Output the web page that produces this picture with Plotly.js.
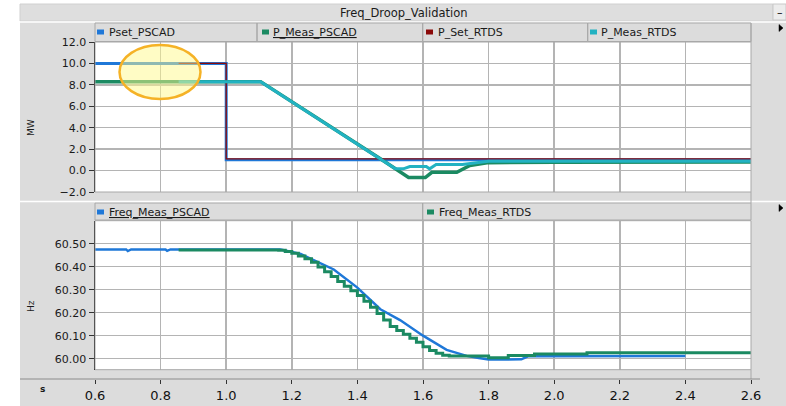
<!DOCTYPE html>
<html>
<head>
<meta charset="utf-8">
<script src="https://cdn.plot.ly/plotly-3.0.1.min.js"></script>
<style>html,body{margin:0;padding:0;background:#fff;}#chart{width:786px;height:406px;}</style>
</head>
<body>
<div id="chart"></div>
<script>
// ---- Data ----
// Top panel (MW)
const tPsetPSCAD = [0.6, 1.0, 1.0, 2.6];
const vPsetPSCAD = [10.0, 10.0, 1.0, 1.0];

const tPMeasPSCAD = [0.6, 1.105, 1.47, 1.556, 1.607, 1.627, 1.703, 1.743, 1.80, 2.0, 2.6];
const vPMeasPSCAD = [8.3, 8.3, 1.1, -0.65, -0.65, -0.16, -0.16, 0.47, 0.74, 0.78, 0.8];

const tPSetRTDS = [0.855, 1.0, 1.0, 2.6];
const vPSetRTDS = [10.0, 10.0, 1.1, 1.1];

const tPMeasRTDS = [0.855, 1.105, 1.515, 1.54, 1.56, 1.61, 1.62, 1.64, 1.72, 1.80, 2.6];
const vPMeasRTDS = [8.3, 8.3, 0.2, 0.16, 0.37, 0.37, 0.16, 0.56, 0.56, 0.88, 0.86];

// Bottom panel (Hz)
const tFreqPSCAD = [0.6, 0.695, 0.70, 0.71, 0.815, 0.82, 0.83, 1.166, 1.227, 1.328, 1.399, 1.47, 1.53, 1.60, 1.672, 1.733, 1.77, 1.80, 1.90, 1.92, 2.4];
const vFreqPSCAD = [60.475, 60.475, 60.468, 60.475, 60.475, 60.469, 60.475, 60.475, 60.455, 60.388, 60.31, 60.215, 60.168, 60.10, 60.038, 60.012, 60.003, 59.996, 59.997, 60.01, 60.012];

const tFreqRTDS = [0.855, 1.16, 1.18, 1.20, 1.22, 1.24, 1.26, 1.28, 1.30, 1.32, 1.34, 1.36, 1.38, 1.40, 1.42, 1.44, 1.46, 1.48, 1.50, 1.52, 1.54, 1.56, 1.58, 1.60, 1.62, 1.64, 1.66, 1.68, 1.78, 1.80, 1.86, 1.94, 2.10, 2.6];
const vFreqRTDS = [60.473, 60.472, 60.466, 60.458, 60.447, 60.434, 60.419, 60.399, 60.378, 60.357, 60.336, 60.315, 60.295, 60.275, 60.250, 60.224, 60.196, 60.168, 60.140, 60.122, 60.106, 60.089, 60.071, 60.052, 60.036, 60.024, 60.015, 60.012, 60.012, 60.004, 60.014, 60.020, 60.026, 60.026];

const xTicks = [0.6, 0.8, 1.0, 1.2, 1.4, 1.6, 1.8, 2.0, 2.2, 2.4, 2.6];
const yTopTicks = [-2, 0, 2, 4, 6, 8, 10, 12];
const yBotTicks = [60.0, 60.1, 60.2, 60.3, 60.4, 60.5];

const C_BLUE = '#1f78d8', C_GREEN = '#1b8a62', C_RED = '#8b0a0a', C_TEAL = '#22b2c2';
const GRAY = '#dcdcdc', BORDER = '#a8a8a8', GRID = '#b4b4b4';
const FONT = 'DejaVu Sans';

// ---- pixel -> paper helpers (layout only) ----
const L = 95, R = 751, T = 42, B = 379;
const px = x => (x - L) / (R - L);
const py = y => (B - y) / (B - T);

const traces = [
  {x: tPsetPSCAD, y: vPsetPSCAD, xaxis: 'x', yaxis: 'y2', mode: 'lines', name: 'Pset_PSCAD', line: {color: C_BLUE, width: 3}},
  {x: tPMeasPSCAD, y: vPMeasPSCAD, xaxis: 'x', yaxis: 'y2', mode: 'lines', name: 'P_Meas_PSCAD', line: {color: C_GREEN, width: 3.5}},
  {x: tPSetRTDS, y: vPSetRTDS, xaxis: 'x', yaxis: 'y2', mode: 'lines', name: 'P_Set_RTDS', line: {color: C_RED, width: 1.3}},
  {x: tPMeasRTDS, y: vPMeasRTDS, xaxis: 'x', yaxis: 'y2', mode: 'lines', name: 'P_Meas_RTDS', line: {color: C_TEAL, width: 3}},
  {x: tFreqPSCAD, y: vFreqPSCAD, xaxis: 'x', yaxis: 'y', mode: 'lines', name: 'Freq_Meas_PSCAD', line: {color: C_BLUE, width: 2.5}},
  {x: tFreqRTDS, y: vFreqRTDS, xaxis: 'x', yaxis: 'y', mode: 'lines', name: 'Freq_Meas_RTDS', line: {color: C_GREEN, width: 3, shape: 'hv'}}
];

const shapes = [];
function rect(x0, y0, x1, y1, fill, lineColor, lw, layer) {
  shapes.push({type: 'rect', xref: 'paper', yref: 'paper', x0: px(x0), x1: px(x1), y0: py(y1), y1: py(y0),
    fillcolor: fill || 'rgba(0,0,0,0)', line: {color: lineColor || 'rgba(0,0,0,0)', width: lw || 0}, layer: layer || 'above'});
}
function hline(x0, x1, y, color, w) {
  shapes.push({type: 'line', xref: 'paper', yref: 'paper', x0: px(x0), x1: px(x1), y0: py(y), y1: py(y), line: {color: color, width: w}});
}
function vline(x, y0, y1, color, w) {
  shapes.push({type: 'line', xref: 'paper', yref: 'paper', x0: px(x), x1: px(x), y0: py(y0), y1: py(y1), line: {color: color, width: w}});
}
function tri(x, y) {
  shapes.push({type: 'path', xref: 'paper', yref: 'paper',
    path: `M ${px(x)} ${py(y - 3.5)} L ${px(x + 4)} ${py(y)} L ${px(x)} ${py(y + 3.5)} Z`,
    fillcolor: '#000', line: {color: '#000', width: 0.5}});
}

// white strips outside the panel
rect(0, 0, 20, 406, '#ffffff', null, 0, 'below');
rect(0, 0, 786, 4, '#ffffff', null, 0, 'below');
// title bar
rect(20, 4, 773, 21, '#dedede', '#d0d0d0', 1);
rect(773, 4, 786, 20, '#ececec', '#c8c8c8', 1);
hline(20, 786, 22, '#ffffff', 1.5);
// top legend row cells
[[95, 257], [257, 422.7], [422.7, 587.7], [587.7, 751]].forEach(c => rect(c[0], 23, c[1], 41.5, null, BORDER, 1));
// bottom legend row cells
[[95, 422.7], [422.7, 751]].forEach(c => rect(c[0], 203, c[1], 220, null, BORDER, 1));
// panel separators
hline(20, 786, 201.5, '#ffffff', 1.5);
// plot frames
rect(95, 42, 751, 192, null, BORDER, 1);
rect(95, 220.7, 751, 369.7, null, BORDER, 1);
vline(751, 23, 42, BORDER, 1);
vline(751, 192, 203, BORDER, 1);
vline(751, 369.7, 379, BORDER, 1);
// x axis divider line
hline(20, 760, 379, '#8c8c8c', 1.2);
// right side triangles
tri(779, 28);
tri(779, 208);
// legend markers
[[97, 32, C_BLUE], [262, 32, C_GREEN], [426, 32, C_RED], [590, 32, C_TEAL], [97, 212, C_BLUE], [427, 212, C_GREEN]]
  .forEach(m => rect(m[0], m[1] - 2.5, m[0] + 7, m[1] + 2.5, m[2], null, 0));
// highlight ellipse
shapes.push({type: 'circle', xref: 'paper', yref: 'paper', x0: px(119.5), x1: px(200.5), y0: py(99), y1: py(45),
  fillcolor: 'rgba(255,250,140,0.5)', line: {color: '#f5b226', width: 2.5}, layer: 'above'});

function ann(text, x, y, size, opts) {
  return Object.assign({text: text, xref: 'paper', yref: 'paper', x: px(x), y: py(y), showarrow: false,
    xanchor: 'left', yanchor: 'middle', font: {family: FONT, size: size, color: '#1a1a1a'}}, opts || {});
}
const annotations = [
  ann('Freq_Droop_Validation', 404, 13, 11.5, {xanchor: 'center'}),
  ann('–', 779.5, 12, 11, {xanchor: 'center', font: {family: FONT, size: 11, color: '#000'}}),
  ann('Pset_PSCAD', 107, 32, 11),
  ann('<u>P_Meas_PSCAD</u>', 271, 32, 11),
  ann('P_Set_RTDS', 436, 32, 11),
  ann('P_Meas_RTDS', 599, 32, 11),
  ann('<u>Freq_Meas_PSCAD</u>', 107, 212, 11),
  ann('Freq_Meas_RTDS', 437, 212, 11),
  ann('MW', 31, 128, 9, {xanchor: 'center', textangle: -90}),
  ann('Hz', 31, 306, 9, {xanchor: 'center', textangle: -90}),
  ann('<b>s</b>', 42, 389, 9, {xanchor: 'center'})
];

const tickFontY = {family: FONT, size: 11, color: '#1a1a1a'};
const layout = {
  width: 786, height: 406,
  margin: {l: L, r: 786 - R, t: T, b: 406 - B, pad: 0},
  paper_bgcolor: GRAY, plot_bgcolor: '#ffffff',
  showlegend: false,
  xaxis: {
    domain: [0, 1], range: [0.6, 2.6], anchor: 'free', position: 0,
    tickvals: xTicks, tickformat: '.1f', ticks: 'outside', ticklen: 4, tickcolor: '#333',
    tickfont: {family: FONT, size: 13, color: '#111'},
    showgrid: true, gridcolor: GRID, gridwidth: 1.5, zeroline: false, showline: false
  },
  yaxis2: {
    domain: [py(192), py(42)], range: [-2, 12], anchor: 'x',
    tickvals: yTopTicks, tickformat: '.1f', ticks: 'outside', ticklen: 5, tickcolor: '#333',
    tickfont: tickFontY, showgrid: true, gridcolor: GRID, gridwidth: 1.5, zeroline: false,
    showline: true, linecolor: '#000', linewidth: 1.5
  },
  yaxis: {
    domain: [py(369.7), py(220.7)], range: [59.952, 60.6], anchor: 'x',
    tickvals: yBotTicks, tickformat: '.2f', ticks: 'outside', ticklen: 5, tickcolor: '#333',
    tickfont: tickFontY, showgrid: true, gridcolor: GRID, gridwidth: 1.5, zeroline: false,
    showline: true, linecolor: '#000', linewidth: 1.5
  },
  shapes: shapes,
  annotations: annotations
};

Plotly.newPlot('chart', traces, layout, {displayModeBar: false, staticPlot: true});
</script>
</body>
</html>
